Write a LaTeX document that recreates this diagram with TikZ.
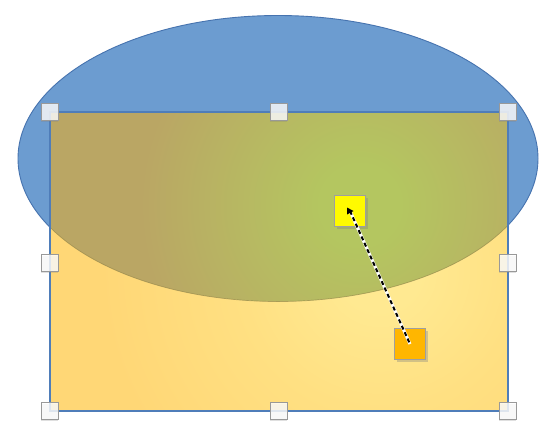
\documentclass[tikz,border=0pt]{standalone}
\usetikzlibrary{shadows,calc}
\definecolor{ellblue}{RGB}{108,156,208}
\definecolor{elledge}{RGB}{70,115,175}
\definecolor{rectedge}{RGB}{79,125,185}
\definecolor{gcen}{RGB}{180,198,96}
\definecolor{gmid}{RGB}{183,184,98}
\definecolor{gout}{RGB}{186,166,100}
\definecolor{ycen}{RGB}{255,233,145}
\definecolor{ymid}{RGB}{255,224,130}
\definecolor{yout}{RGB}{255,215,118}
\definecolor{ovledge}{RGB}{140,128,70}
\definecolor{hyel}{RGB}{255,250,0}
\definecolor{horg}{RGB}{255,182,0}
\pgfdeclareradialshading{ovlshade}{\pgfpoint{0pt}{0pt}}{color(0pt)=(gcen); color(40pt)=(gcen); color(120pt)=(gmid); color(220pt)=(gout); color(400pt)=(gout)}
\pgfdeclareradialshading{yelshade}{\pgfpoint{0pt}{0pt}}{color(0pt)=(ycen); color(40pt)=(ycen); color(140pt)=(ymid); color(280pt)=(yout); color(450pt)=(yout)}
\tikzset{
  handle/.style={draw=gray!80, line width=0.9pt, fill=white, fill opacity=0.8,
    minimum size=17pt, inner sep=0pt, outer sep=0pt,
    drop shadow={shadow xshift=-1pt, shadow yshift=-1pt, opacity=0.25}},
  ctrl/.style={draw=gray!75, line width=0.9pt, minimum size=31pt, inner sep=0pt, outer sep=0pt,
    drop shadow={shadow xshift=2pt, shadow yshift=-2pt, opacity=0.35}},
  shadebox/.style={inner sep=0pt, outer sep=0pt},
}
\begin{document}
\begin{tikzpicture}[x=1pt,y=-1pt]
\useasboundingbox[fill=white] (0,0) rectangle (541,429);
% ellipse
\fill[ellblue] (278,158.5) ellipse [x radius=260, y radius=143];
\draw[elledge, line width=0.9pt] (278,158.5) ellipse [x radius=260, y radius=143];
% rectangle gradient
\begin{scope}
  \clip (50,112) rectangle (508,411);
  \node[shadebox] (ysh) at (380,270) {\pgfuseshading{yelshade}};
  \clip (278,158.5) ellipse [x radius=260, y radius=143];
  \node[shadebox] (gsh) at (360,205) {\pgfuseshading{ovlshade}};
\end{scope}
\begin{scope}
  \clip (50,112) rectangle (508,411);
  \draw[ovledge, line width=0.7pt, opacity=0.6] (278,158.5) ellipse [x radius=260, y radius=143];
\end{scope}
\draw[rectedge, line width=1.3pt] (50,112) rectangle (508,411);
% handles
\node[handle] (h1) at (50,112) {};
\node[handle] (h2) at (279,112) {};
\node[handle] (h3) at (508,112) {};
\node[handle] (h4) at (50,263) {};
\node[handle] (h5) at (508,263) {};
\node[handle] (h6) at (50,411) {};
\node[handle] (h7) at (279,411) {};
\node[handle] (h8) at (508,411) {};
% control points
\node[ctrl, fill=hyel] (ys) at (350,211) {};
\node[ctrl, fill=horg] (os) at (410,344) {};
\draw[white, line width=3pt] (ys.center) -- (os.center);
\draw[black, line width=2pt, dash pattern=on 4pt off 3pt] (ys.center) -- (os.center);
\fill[black] ($(ys.center)+(-3,-3.5)$) -- ++(6.5,3.5) -- ++(-6.5,3.5) -- cycle;
\end{tikzpicture}
\end{document}
